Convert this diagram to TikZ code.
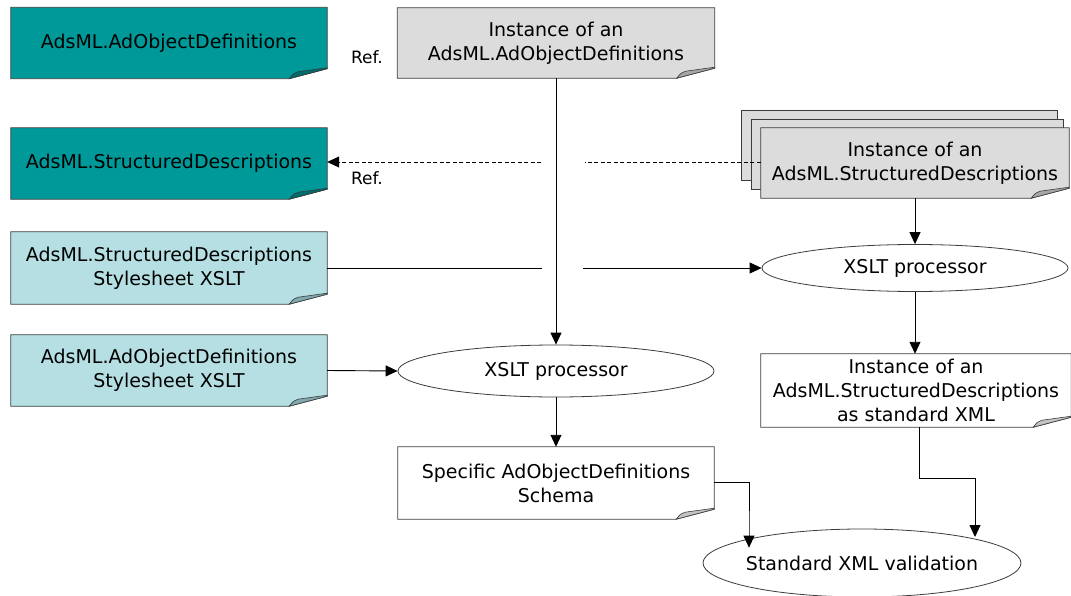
\documentclass[tikz,border=0pt]{standalone}
\usepackage{fontspec}
\setmainfont{DejaVu Sans}
\usetikzlibrary{arrows.meta,shapes.geometric}
\pgfdeclarelayer{background}
\pgfsetlayers{background,main}

\definecolor{teal1}{HTML}{009999}
\definecolor{teal2}{HTML}{006B6B}
\definecolor{pale1}{HTML}{B5DFE2}
\definecolor{pale2}{HTML}{7FA9AD}
\definecolor{grey1}{HTML}{DCDCDC}
\definecolor{grey2}{HTML}{A6A6A6}
\definecolor{white2}{HTML}{C4C4C4}
\definecolor{edge}{HTML}{3C3C3C}

\tikzset{
  txt/.style={font=\fontsize{19}{24}\selectfont, align=center},
  docnode/.style={txt, rectangle, inner sep=0pt, draw=none},
  proc/.style={txt, ellipse, draw=edge, line width=0.8pt, inner ysep=0pt, inner xsep=-6pt, fill=white},
  flow/.style={line width=0.9pt, -{Triangle[length=12pt,width=11pt]}},
  plain/.style={line width=0.9pt},
  dashedflow/.style={line width=0.8pt, dashed, dash pattern=on 4pt off 2.5pt},
  reflabel/.style={font=\fontsize{17}{20}\selectfont}
}

% Document outline with a curled lower-right corner
\newcommand{\docpath}[3]{%
    \path[fill=#2, draw=edge, line width=0.8pt]
      (#1.north west) -- (#1.north east) -- ([yshift=10pt]#1.south east)
      -- ([xshift=-38pt]#1.south east) -- (#1.south west) -- cycle;
    \path[fill=#3, draw=edge, line width=0.6pt]
      ([xshift=-38pt]#1.south east) .. controls ([xshift=-34pt,yshift=5pt]#1.south east) ..
      ([xshift=-29pt,yshift=7pt]#1.south east) -- ([yshift=11pt]#1.south east)
      -- ([yshift=10pt]#1.south east) -- cycle;}
% Same shape, placed behind node #1
\newcommand{\docshape}[3]{%
  \begin{pgfonlayer}{background}\docpath{#1}{#2}{#3}\end{pgfonlayer}}

\begin{document}
\begin{tikzpicture}[x=1pt,y=-1pt]
\useasboundingbox (0,0) rectangle (1071,596);

% left column: definitions and stylesheets
\node[docnode, minimum width=316pt, minimum height=71pt] (defA) at (169,43) {AdsML.AdObjectDefinitions};
\docshape{defA}{teal1}{teal2}
\node[docnode, minimum width=316pt, minimum height=71pt] (sdesc) at (169,163.5) {AdsML.StructuredDescriptions};
\docshape{sdesc}{teal1}{teal2}
\node[docnode, minimum width=316pt, minimum height=72pt] (sdxslt) at (169,268) {AdsML.StructuredDescriptions\\Stylesheet XSLT};
\docshape{sdxslt}{pale1}{pale2}
\node[docnode, minimum width=316pt, minimum height=71pt] (adxslt) at (169,370.5) {AdsML.AdObjectDefinitions\\Stylesheet XSLT};
\docshape{adxslt}{pale1}{pale2}

% instance of the ad object definitions
\node[docnode, minimum width=317pt, minimum height=70pt] (instA) at (556,43) {Instance of an\\AdsML.AdObjectDefinitions};
\docshape{instA}{grey1}{grey2}

% stack of structured description instances
\draw[fill=grey1, draw=edge, line width=0.8pt] (741,110) rectangle (1057,180);
\draw[fill=grey1, draw=edge, line width=0.8pt] (751,119) rectangle (1063,189);
\node[docnode, minimum width=308pt, minimum height=70pt] (instS) at (915,163) {};
\docpath{instS}{grey1}{grey2}
\node[txt] at (instS) {Instance of an\\AdsML.StructuredDescriptions};

% processors
\node[proc, minimum width=306pt, minimum height=47pt] (xslR) at (915,268) {XSLT processor};
\node[proc, minimum width=316pt, minimum height=52pt] (xslL) at (556,371) {XSLT processor};

% results
\node[docnode, minimum width=310pt, minimum height=73pt] (instX) at (916,390.5) {Instance of an\\AdsML.StructuredDescriptions\\as standard XML};
\docshape{instX}{white}{white2}
\node[docnode, minimum width=316pt, minimum height=72pt] (spec) at (556,483) {Specific AdObjectDefinitions\\Schema};
\docshape{spec}{white}{white2}
\node[proc, minimum width=318pt, minimum height=68pt] (valid) at (862,563) {Standard XML validation};

% labels
\node[reflabel] (ref1) at (367,57) {Ref.};
\node[reflabel] (ref2) at (367,178) {Ref.};

% line gaps where the crossing vertical connector passes
\coordinate (dgapL) at (541,162);
\coordinate (dgapR) at (585,162);
\coordinate (sgapL) at (542,268);
\coordinate (sgapR) at (583,268);
\coordinate (specbend) at (749,482);
\coordinate (xbend1) at (919,478);
\coordinate (xbend2) at (975,478);

% connectors
\draw[flow] (instA.south) -- (xslL.north);
\draw[dashedflow] (instS.west |- dgapR) -- (dgapR);
\draw[dashedflow, -{Triangle[length=12pt,width=11pt]}] (dgapL) -- (sdesc.east |- dgapL);
\draw[plain] (sdxslt.east) -- (sgapL);
\draw[flow] (sgapR) -- (xslR.west);
\draw[flow] (adxslt.east) -- (xslL.west);
\draw[flow] (instS.south) -- (xslR.north);
\draw[flow] (xslR.south) -- (xslR.south |- instX.north);
\draw[flow] (xslL.south) -- (xslL.south |- spec.north);
\draw[flow] (spec.east |- specbend) -- (specbend) -- (specbend |- valid.north west) -- ++(0,9);
\draw[flow] (xbend1 |- instX.south) -- (xbend1) -- (xbend2) -- (975,537);
\end{tikzpicture}
\end{document}
